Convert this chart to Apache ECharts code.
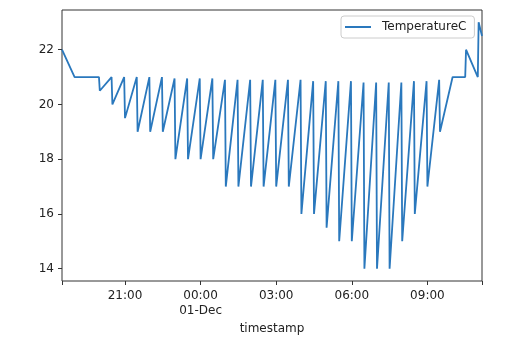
<!DOCTYPE html>
<html><head><meta charset="utf-8">
<script src="https://cdn.jsdelivr.net/npm/echarts@6/dist/echarts.min.js"></script>
<style>html,body{margin:0;padding:0;background:#fff}#c{width:511px;height:357px}</style>
</head><body><div id="c"></div>
<script>
const seriesName = 'TemperatureC';
const xAxisName = 'timestamp';
const timestamps = [
 '2019-11-30 18:30','2019-11-30 19:00','2019-11-30 19:58','2019-11-30 20:00',
 '2019-11-30 20:28','2019-11-30 20:30','2019-11-30 20:58','2019-11-30 21:00',
 '2019-11-30 21:28','2019-11-30 21:30','2019-11-30 21:58','2019-11-30 22:00',
 '2019-11-30 22:28','2019-11-30 22:30','2019-11-30 22:58','2019-11-30 23:00',
 '2019-11-30 23:28','2019-11-30 23:30','2019-11-30 23:58','2019-12-01 00:00',
 '2019-12-01 00:28','2019-12-01 00:30','2019-12-01 00:58','2019-12-01 01:00',
 '2019-12-01 01:28','2019-12-01 01:30','2019-12-01 01:58','2019-12-01 02:00',
 '2019-12-01 02:28','2019-12-01 02:30','2019-12-01 02:58','2019-12-01 03:00',
 '2019-12-01 03:28','2019-12-01 03:30','2019-12-01 03:58','2019-12-01 04:00',
 '2019-12-01 04:28','2019-12-01 04:30','2019-12-01 04:58','2019-12-01 05:00',
 '2019-12-01 05:28','2019-12-01 05:30','2019-12-01 05:58','2019-12-01 06:00',
 '2019-12-01 06:28','2019-12-01 06:30','2019-12-01 06:58','2019-12-01 07:00',
 '2019-12-01 07:28','2019-12-01 07:30','2019-12-01 07:58','2019-12-01 08:00',
 '2019-12-01 08:28','2019-12-01 08:30','2019-12-01 08:58','2019-12-01 09:00',
 '2019-12-01 09:28','2019-12-01 09:30','2019-12-01 10:00','2019-12-01 10:30',
 '2019-12-01 10:32','2019-12-01 11:00','2019-12-01 11:02','2019-12-01 11:10'
];
const temperatureC = [
 22, 21, 21, 20.5,
 21, 20, 21, 19.5,
 21, 19, 21, 19,
 21, 19, 20.95, 18,
 20.95, 18, 20.95, 18,
 20.95, 18, 20.9, 17,
 20.9, 17, 20.9, 17,
 20.9, 17, 20.9, 17,
 20.9, 17, 20.9, 16,
 20.85, 16, 20.85, 15.5,
 20.85, 15, 20.85, 15,
 20.8, 14, 20.8, 14,
 20.8, 14, 20.8, 15,
 20.85, 16, 20.85, 17,
 20.9, 19, 21, 21,
 22, 21, 23, 22.5
];
const xTickHours = [-3, 0, 3, 6, 9];
const xTickLabels = ['21:00', '00:00\n01-Dec', '03:00', '06:00', '09:00'];
const yTicks = [14, 16, 18, 20, 22];

function toHours(s) {
  const [d, t] = s.split(' ');
  const [Y, M, D] = d.split('-').map(Number);
  const [h, m] = t.split(':').map(Number);
  return (Date.UTC(Y, M - 1, D, h, m) - Date.UTC(2019, 11, 1, 0, 0)) / 3600000;
}
const xs = timestamps.map(toHours);
const xMin = xs[0], xMax = xs[xs.length - 1];
const lineData = xs.map((x, i) => [x, temperatureC[i]]);
const font = 'DejaVu Sans';

const chart = echarts.init(document.getElementById('c'), null, {renderer: 'canvas'});
chart.setOption({
  animation: false,
  backgroundColor: '#ffffff',
  grid: {left: 62, right: 29, top: 10, bottom: 76, show: true, borderColor: '#333', borderWidth: 1, backgroundColor: 'transparent'},
  legend: {
    left: 341, top: 16,
    data: [{name: seriesName, icon: 'rect'}],
    itemWidth: 26, itemHeight: 2,
    padding: [4, 8, 4, 4],
    backgroundColor: '#fff', borderColor: '#cccccc', borderWidth: 1, borderRadius: 3,
    textStyle: {fontFamily: font, fontSize: 12, color: '#222', lineHeight: 14, padding: [0, 0, 0, 6]}
  },
  xAxis: {
    type: 'value', min: xMin, max: xMax,
    name: xAxisName, nameLocation: 'middle', nameGap: 42,
    nameTextStyle: {fontFamily: font, fontSize: 12, color: '#222'},
    axisLine: {show: false, onZero: false},
    splitLine: {show: false},
    axisTick: {show: true, inside: false, length: 4, lineStyle: {color: '#333'}, customValues: [xMin].concat(xTickHours, [xMax])},
    axisLabel: {customValues: xTickHours, margin: 7, fontFamily: font, fontSize: 12, color: '#222', lineHeight: 15,
      formatter: v => { const i = xTickHours.indexOf(Math.round(v)); return i >= 0 ? xTickLabels[i] : ''; }}
  },
  yAxis: {
    type: 'value', min: 13.55, max: 23.45,
    axisLine: {show: false, onZero: false},
    splitLine: {show: false},
    axisTick: {show: true, length: 4, lineStyle: {color: '#333'}, customValues: yTicks},
    axisLabel: {customValues: yTicks, margin: 8, fontFamily: font, fontSize: 12, color: '#222'}
  },
  series: [{
    name: seriesName, type: 'line', data: lineData, symbol: 'none',
    lineStyle: {width: 1.8, color: '#2a78bd'}, itemStyle: {color: '#2a78bd'}
  }]
});
</script></body></html>
